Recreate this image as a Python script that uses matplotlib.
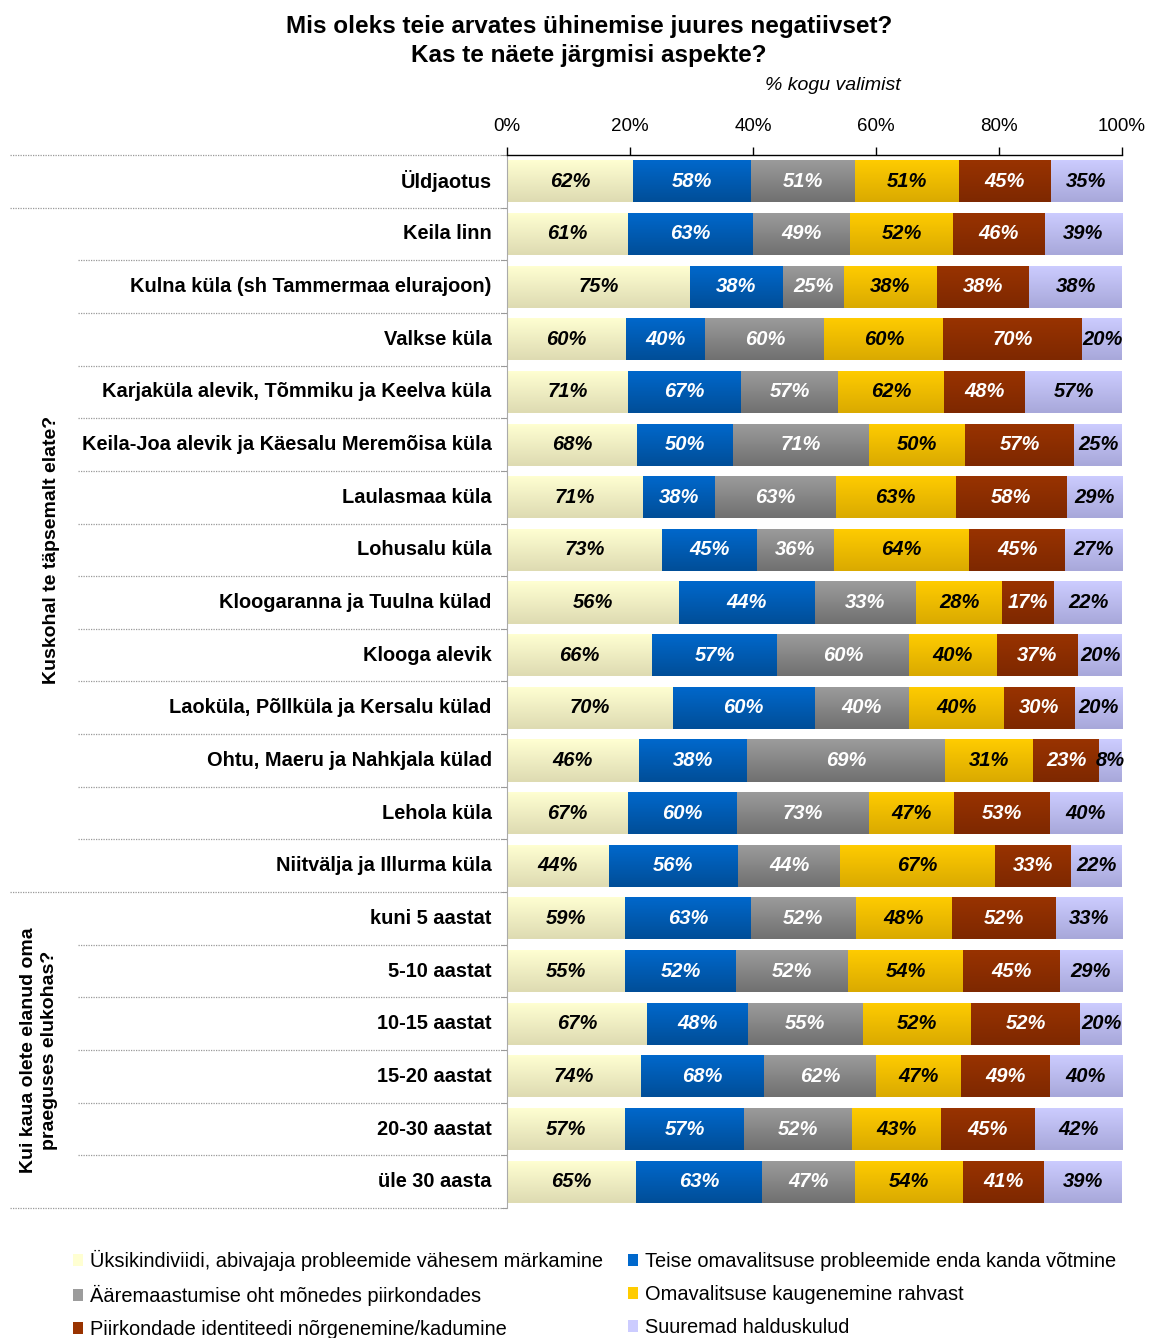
import matplotlib.pyplot as plt
import matplotlib.transforms as mtransforms
from matplotlib.patches import Patch
import numpy as np

plt.rcParams['font.family'] = ['Liberation Sans', 'DejaVu Sans']

rows = ['Üldjaotus', 'Keila linn', 'Kulna küla (sh Tammermaa elurajoon)', 'Valkse küla',
        'Karjaküla alevik, Tõmmiku ja Keelva küla', 'Keila-Joa alevik ja Käesalu Meremõisa küla',
        'Laulasmaa küla', 'Lohusalu küla', 'Kloogaranna ja Tuulna külad', 'Klooga alevik',
        'Laoküla, Põllküla ja Kersalu külad', 'Ohtu, Maeru ja Nahkjala külad', 'Lehola küla',
        'Niitvälja ja Illurma küla', 'kuni 5 aastat', '5-10 aastat', '10-15 aastat',
        '15-20 aastat', '20-30 aastat', 'üle 30 aasta']

series = ['Üksikindiviidi, abivajaja probleemide vähesem märkamine',
          'Teise omavalitsuse probleemide enda kanda võtmine',
          'Ääremaastumise oht mõnedes piirkondades',
          'Omavalitsuse kaugenemine rahvast',
          'Piirkondade identiteedi nõrgenemine/kadumine',
          'Suuremad halduskulud']

s1 = [62, 61, 75, 60, 71, 68, 71, 73, 56, 66, 70, 46, 67, 44, 59, 55, 67, 74, 57, 65]
s2 = [58, 63, 38, 40, 67, 50, 38, 45, 44, 57, 60, 38, 60, 56, 63, 52, 48, 68, 57, 63]
s3 = [51, 49, 25, 60, 57, 71, 63, 36, 33, 60, 40, 69, 73, 44, 52, 52, 55, 62, 52, 47]
s4 = [51, 52, 38, 60, 62, 50, 63, 64, 28, 40, 40, 31, 47, 67, 48, 54, 52, 47, 43, 54]
s5 = [45, 46, 38, 70, 48, 57, 58, 45, 17, 37, 30, 23, 53, 33, 52, 45, 52, 49, 45, 41]
s6 = [35, 39, 38, 20, 57, 25, 29, 27, 22, 20, 20, 8, 40, 22, 33, 29, 20, 40, 42, 39]

groups = ['Kuskohal te täpsemalt elate?', 'Kui kaua olete elanud oma\npraeguses elukohas?']

top_cols = ['#FFFFD2', '#0068CC', '#9C9C9C', '#FFCC00', '#993300', '#CCCCFF']
bot_cols = ['#DEDBB2', '#004E98', '#707070', '#DAAA00', '#7E2800', '#A8A8DA']
txt_cols = ['black', 'white', 'white', 'black', 'white', 'black']

data = np.array([s1, s2, s3, s4, s5, s6], dtype=float)
share = data / data.sum(axis=0) * 100

fig = plt.figure(figsize=(11.5, 13.38), dpi=100)
ax = fig.add_axes([507 / 1150, 1 - 1208 / 1338, 615 / 1150, 1053 / 1338])

y = np.arange(len(rows))
left = np.zeros(len(rows))
for i in range(len(series)):
    bars = ax.barh(y, share[i], left=left, height=0.8, color=top_cols[i], edgecolor='none')
    grad = np.linspace(0, 1, 50).reshape(-1, 1)
    cmap = plt.matplotlib.colors.LinearSegmentedColormap.from_list('g%d' % i, [top_cols[i], bot_cols[i]])
    for b, v in zip(bars, data[i]):
        x0, y0 = b.get_x(), b.get_y()
        w, h = b.get_width(), b.get_height()
        im = ax.imshow(grad, extent=(x0, x0 + w, y0 + h, y0), cmap=cmap, aspect='auto',
                       origin='upper', zorder=b.get_zorder())
        im.set_clip_path(b)
        ax.text(x0 + w / 2, y0 + h / 2, '%d%%' % v, ha='center', va='center',
                fontsize=14.5, fontweight='bold', fontstyle='italic', color=txt_cols[i], zorder=5)
    left += share[i]

ax.set_xlim(0, 100)
ax.set_ylim(len(rows) - 0.5, -0.5)
ax.xaxis.tick_top()
ax.set_xticks(range(0, 101, 20))
ax.set_xticklabels(['%d%%' % t for t in range(0, 101, 20)], fontsize=13.5)
ax.tick_params(axis='x', length=6, width=1, pad=8.4, direction='out')
ax.set_yticks(y)
ax.set_yticklabels(rows, fontsize=14.4, fontweight='bold', va='center')
ax.tick_params(axis='y', which='major', length=0, pad=11)
ax.set_yticks(np.arange(-0.5, len(rows)), minor=True)
ax.tick_params(axis='y', which='minor', length=4, color='#888888', direction='out')
for s in ['right', 'bottom']:
    ax.spines[s].set_visible(False)
ax.spines['left'].set_color('#AAAAAA')
ax.spines['top'].set_linewidth(1)

# dotted separators in the label area
trans = mtransforms.blended_transform_factory(fig.transFigure, ax.transData)
for b in np.arange(-0.5, len(rows)):
    x_start = 10 / 1150 if b in (-0.5, 0.5, 13.5, 19.5) else 78 / 1150
    ax.plot([x_start, 507 / 1150], [b, b], transform=trans, color='#999999',
            linestyle=(0, (1, 1)), linewidth=0.9, clip_on=False)

ax.text(52 / 1150, 7, groups[0], transform=trans, rotation=90, ha='center', va='center',
        fontsize=14, fontweight='bold')
ax.text(39 / 1150, 16.5, groups[1], transform=trans, rotation=90, ha='center', va='center',
        fontsize=14, fontweight='bold', linespacing=1.3)

fig.text(589 / 1150, 1 - 41 / 1338, 'Mis oleks teie arvates ühinemise juures negatiivset?\nKas te näete järgmisi aspekte?',
         ha='center', va='center', fontsize=17.5, fontweight='bold', linespacing=1.35)
fig.text(833 / 1150, 1 - 85 / 1338, '% kogu valimist', ha='center', va='center',
         fontsize=14, fontstyle='italic')

order = [0, 2, 4, 1, 3, 5]
handles = [Patch(facecolor=top_cols[i], edgecolor='none') for i in order]
fig.legend(handles, [series[i] for i in order], loc='upper left',
           bbox_to_anchor=(65 / 1150, 1 - 1242 / 1338),
           ncol=2, frameon=False, fontsize=14.4, handlelength=0.5, handleheight=0.5,
           handletextpad=0.35, columnspacing=1.25, labelspacing=0.7, borderaxespad=0)

fig.savefig('out.png', dpi=100)
